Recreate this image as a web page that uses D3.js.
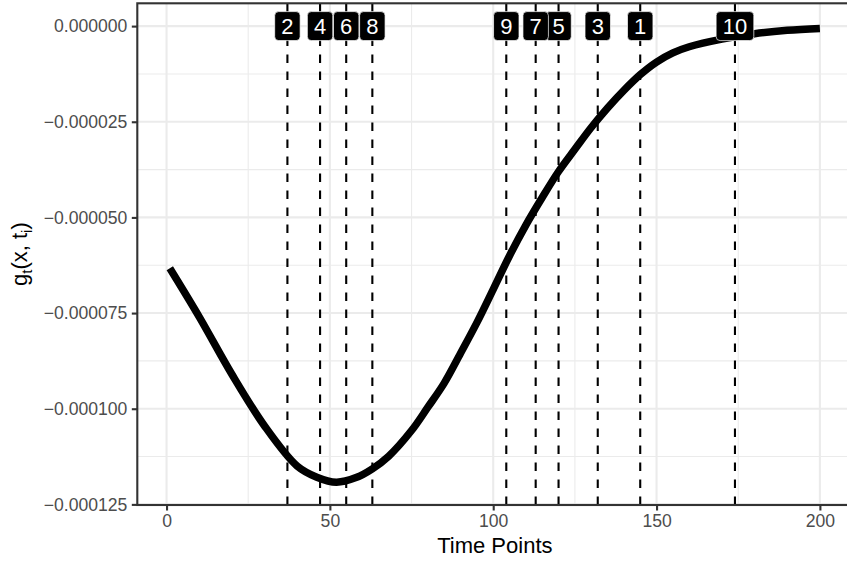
<!DOCTYPE html>
<html>
<head>
<meta charset="utf-8">
<script src="https://cdn.jsdelivr.net/npm/d3@7"></script>
<style>
  body { margin: 0; background: #fff; }
  text { font-family: "Liberation Sans", Arial, sans-serif; }
</style>
</head>
<body>
<script>
// Curve (time point, g value)
const timePoints = [1, 10, 20, 30, 40, 46, 52, 58, 63, 68, 75, 80, 85, 90, 95, 100, 105, 110, 115, 120,
    125, 130, 135, 140, 145, 150, 155, 160, 170, 180, 190, 200]
const gValues = [-63.3e-6, -76.0e-6, -91.0e-6, -104.5e-6, -115.0e-6, -117.9e-6, -119.2e-6, -118.0e-6, -115.7e-6, -112.4e-6,
    -105.7e-6, -99.6e-6, -93.3e-6, -85.5e-6, -77.5e-6, -68.8e-6, -60.0e-6, -52.0e-6, -44.8e-6, -38.0e-6,
    -32.2e-6, -26.5e-6, -21.4e-6, -16.8e-6, -12.7e-6, -9.4e-6, -7.0e-6, -5.4e-6, -3.4e-6, -2.0e-6,
    -1.1e-6, -0.6e-6]

// Marked time points and their labels
const markLabels = ["1", "2", "3", "4", "5", "6", "7", "8", "9", "10"]
const markTimes = [145, 37, 132, 47, 120, 55, 113, 63, 104, 174]
const labelY = 0

// Axis ticks
const xTicks = [0, 50, 100, 150, 200]
const xMinor = [25, 75, 125, 175]
const yTicks = [0, -0.000025, -0.00005, -0.000075, -0.0001, -0.000125]
const yTickLabels = ["0.000000", "\u22120.000025", "\u22120.000050", "\u22120.000075", "\u22120.000100", "\u22120.000125"]
const yMinor = [-0.0000125, -0.0000375, -0.0000625, -0.0000875, -0.0001125]

function main() {
    var width = 847, height = 562
    var left = 137.3, top = 3.3, right = 852.4, bottom = 505

    var svg = d3.select('body').append('svg')
        .attr('width', width)
        .attr('height', height)

    // Scales with 5% padding like ggplot
    var xr = d3.extent(timePoints)
    var xPad = (xr[1] - xr[0]) * 0.05
    var xScale = d3.scaleLinear()
        .domain([xr[0] - xPad, xr[1] + xPad])
        .range([left, right])

    var yr = d3.extent(gValues.concat([labelY]))
    var yPad = (yr[1] - yr[0]) * 0.05
    var yScale = d3.scaleLinear()
        .domain([yr[0] - yPad, yr[1] + yPad])
        .range([bottom, top])

    svg.append('clipPath').attr('id', 'panel')
        .append('rect')
        .attr('x', left).attr('y', top)
        .attr('width', right - left).attr('height', bottom - top)

    var panel = svg.append('g').attr('clip-path', 'url(#panel)')

    // Minor grid
    panel.selectAll('.xminor').data(xMinor).enter().append('line')
        .attr('x1', d => xScale(d)).attr('x2', d => xScale(d))
        .attr('y1', top).attr('y2', bottom)
        .attr('stroke', '#ebebeb').attr('stroke-width', 1.1)
    panel.selectAll('.yminor').data(yMinor).enter().append('line')
        .attr('y1', d => yScale(d)).attr('y2', d => yScale(d))
        .attr('x1', left).attr('x2', right)
        .attr('stroke', '#ebebeb').attr('stroke-width', 1.1)

    // Major grid
    panel.selectAll('.xmajor').data(xTicks).enter().append('line')
        .attr('x1', d => xScale(d)).attr('x2', d => xScale(d))
        .attr('y1', top).attr('y2', bottom)
        .attr('stroke', '#ebebeb').attr('stroke-width', 2.1)
    panel.selectAll('.ymajor').data(yTicks).enter().append('line')
        .attr('y1', d => yScale(d)).attr('y2', d => yScale(d))
        .attr('x1', left).attr('x2', right)
        .attr('stroke', '#ebebeb').attr('stroke-width', 2.1)

    // The curve
    var line = d3.line()
        .x((d, i) => xScale(timePoints[i]))
        .y(d => yScale(d))
        .curve(d3.curveCatmullRom.alpha(0.5))

    panel.append('path')
        .attr('d', line(gValues))
        .attr('fill', 'none')
        .attr('stroke', '#000')
        .attr('stroke-width', 7.5)

    // Dashed vertical lines
    panel.selectAll('.vline').data(markTimes).enter().append('line')
        .attr('x1', d => xScale(d)).attr('x2', d => xScale(d))
        .attr('y1', bottom).attr('y2', top)
        .attr('stroke', '#000')
        .attr('stroke-width', 2.1)
        .attr('stroke-dasharray', '8.5,8.5')

    // Labels
    var lab = panel.selectAll('.lab').data(markLabels).enter().append('g')
        .attr('transform', (d, i) => 'translate(' + xScale(markTimes[i]) + ',' + yScale(labelY) + ')')
    var rects = lab.append('rect')
    var texts = lab.append('text')
        .attr('text-anchor', 'middle')
        .attr('dy', '0.36em')
        .attr('fill', '#fff')
        .attr('font-size', 22)
        .text(d => d)
    texts.each(function(d, i) {
        var w = this.getComputedTextLength() + 13.2
        d3.select(rects.nodes()[i])
            .attr('x', -w / 2).attr('y', -14.5)
            .attr('width', w).attr('height', 29)
            .attr('rx', 4).attr('ry', 4)
            .attr('fill', '#000')
            .attr('stroke', '#fff').attr('stroke-width', 0.7)
    })

    // Panel border
    svg.append('rect')
        .attr('x', left).attr('y', top)
        .attr('width', right - left).attr('height', bottom - top)
        .attr('fill', 'none')
        .attr('stroke', '#333').attr('stroke-width', 2.1)

    // Axes
    var xAxis = d3.axisBottom(xScale).tickValues(xTicks).tickSize(5.5).tickPadding(4.4)
    var gx = svg.append('g').attr('transform', 'translate(0,' + bottom + ')').call(xAxis)
    var yAxis = d3.axisLeft(yScale).tickValues(yTicks).tickSize(5.5).tickPadding(4.4)
        .tickFormat((d, i) => yTickLabels[i])
    var gy = svg.append('g').attr('transform', 'translate(' + left + ',0)').call(yAxis)

    ;[gx, gy].forEach(function(g) {
        g.select('.domain').remove()
        g.selectAll('.tick line').attr('stroke', '#333').attr('stroke-width', 2.1)
        g.selectAll('.tick text').attr('fill', '#4d4d4d').attr('font-size', 17.6)
            .attr('font-family', '"Liberation Sans", Arial, sans-serif')
    })

    // Axis titles
    svg.append('text')
        .attr('x', (left + right) / 2)
        .attr('y', 553)
        .attr('text-anchor', 'middle')
        .attr('font-size', 22)
        .text('Time Points')

    var yt = svg.append('text')
        .attr('transform', 'translate(27,' + ((top + bottom) / 2) + ') rotate(-90)')
        .attr('text-anchor', 'middle')
        .attr('font-size', 22)
    yt.append('tspan').text('g')
    yt.append('tspan').attr('font-size', 15).attr('dy', 5).text('t')
    yt.append('tspan').attr('dy', -5).text('(x, t')
    yt.append('tspan').attr('font-size', 15).attr('dy', 5).text('i')
    yt.append('tspan').attr('dy', -5).text(')')
}

main()
</script>
</body>
</html>
